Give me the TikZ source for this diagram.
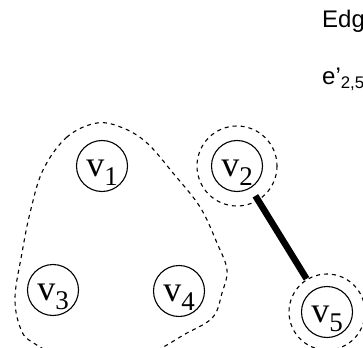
\documentclass[tikz,border=0pt]{standalone}
\usepackage{fontspec}
\setmainfont{Liberation Serif}
\setsansfont{Liberation Sans}
\newcommand{\vlab}[1]{v\raisebox{-9pt}{\fontsize{27}{27}\selectfont #1}}

\begin{document}
\begin{tikzpicture}[x=1pt, y=-1pt,
  vertex/.style={draw, line width=1.1pt, circle, minimum size=51pt, inner sep=0pt, text height=20pt, text depth=0pt, font=\fontsize{36}{36}\selectfont},
  group/.style={draw, line width=1.1pt, dash pattern=on 4pt off 4pt},
  edge/.style={line width=6.5pt},
  note/.style={anchor=base west, inner sep=0pt, font=\sffamily\fontsize{24}{27}\selectfont}]
			\useasboundingbox (0,0) rectangle (363,347);
			\node[note] (title) at (322,28) {Edg};
			\node[note] (edgename) at (322,85) {e'\textsubscript{2,5}};
			\node[vertex] (v1) at (102,166) {\vlab{1}};
			\node[vertex] (v2) at (237,166) {\vlab{2}};
			\node[vertex] (v3) at (53,290) {\vlab{3}};
			\node[vertex] (v4) at (179,291) {\vlab{4}};
			\node[vertex] (v5) at (327,312) {\vlab{5}};
			\draw[group] (v2) circle (40);
			\draw[group] (v5) circle (38);
			\draw[group] plot[smooth cycle, tension=0.6] coordinates {(97,123) (67,137) (43,170) (30,213) (22,253) (15,297) (20,327) (32,342) (70,358) (140,356) (187,333) (213,317) (222,293) (227,270) (217,243) (200,207) (173,173) (147,143) (123,128)};
			\draw[edge, shorten <=9pt, shorten >=13pt] (v2) -- (v5);
\end{tikzpicture}
\end{document}
